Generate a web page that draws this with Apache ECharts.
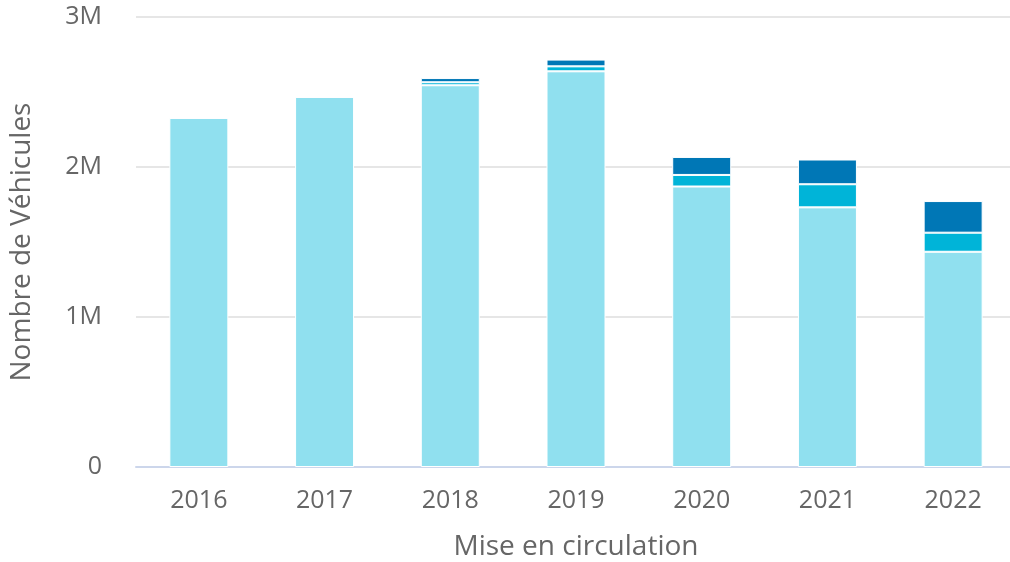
<!DOCTYPE html>
<html>
<head>
<meta charset="utf-8">
<script src="https://cdn.jsdelivr.net/npm/echarts@6/dist/echarts.min.js"></script>
<style>
html,body{margin:0;padding:0;background:#fff;}
#chart{width:1010px;height:562px;}
</style>
</head>
<body>
<div id="chart"></div>
<script>
var categories = ['2016', '2017', '2018', '2019', '2020', '2021', '2022'];
var seriesNames = ['Série 1', 'Série 2', 'Série 3'];
var valuesLight = [2327000, 2467000, 2545000, 2638000, 1870000, 1731000, 1435000];
var valuesMedium = [0, 0, 20000, 33000, 77000, 154000, 127000];
var valuesDark = [0, 0, 28000, 45000, 120000, 165000, 211000];
var yTicks = [0, 1000000, 2000000, 3000000];
var yTickLabels = ['0', '1M', '2M', '3M'];
var colors = ['#90E0EF', '#00B4D8', '#0077B6'];

var font = '"Open Sans", "DejaVu Sans", sans-serif';
var chart = echarts.init(document.getElementById('chart'), null, {renderer: 'canvas'});
function mk(name, data, color) {
  return {
    name: name, type: 'bar', stack: 'total', data: data,
    barWidth: 59,
    itemStyle: {color: color, borderColor: '#ffffff', borderWidth: 1},
    emphasis: {disabled: true}
  };
}
chart.setOption({
  animation: false,
  backgroundColor: '#ffffff',
  grid: {left: 136, top: 17, width: 880, height: 450, containLabel: false, outerBoundsMode: 'none'},
  xAxis: {
    type: 'category', data: categories,
    name: 'Mise en circulation', nameLocation: 'middle', nameGap: 66,
    nameTextStyle: {fontFamily: font, fontSize: 28, color: '#666666'},
    axisLine: {show: true, lineStyle: {color: '#ccd6eb', width: 2}},
    axisTick: {show: false},
    axisLabel: {fontFamily: font, fontSize: 25, color: '#666666', margin: 21}
  },
  yAxis: {
    type: 'value', min: yTicks[0], max: yTicks[yTicks.length - 1], interval: 1000000,
    name: 'Nombre de Véhicules', nameLocation: 'middle', nameGap: 100,
    nameTextStyle: {fontFamily: font, fontSize: 28, color: '#666666'},
    axisLine: {show: false}, axisTick: {show: false},
    splitLine: {show: true, lineStyle: {color: '#e6e6e6', width: 2}},
    axisLabel: {
      fontFamily: font, fontSize: 25, color: '#666666', margin: 34,
      formatter: function (v) { var i = yTicks.indexOf(v); return i >= 0 ? yTickLabels[i] : ''; }
    }
  },
  series: [
    mk(seriesNames[0], valuesLight, colors[0]),
    mk(seriesNames[1], valuesMedium, colors[1]),
    mk(seriesNames[2], valuesDark, colors[2])
  ]
});
</script>
</body>
</html>
